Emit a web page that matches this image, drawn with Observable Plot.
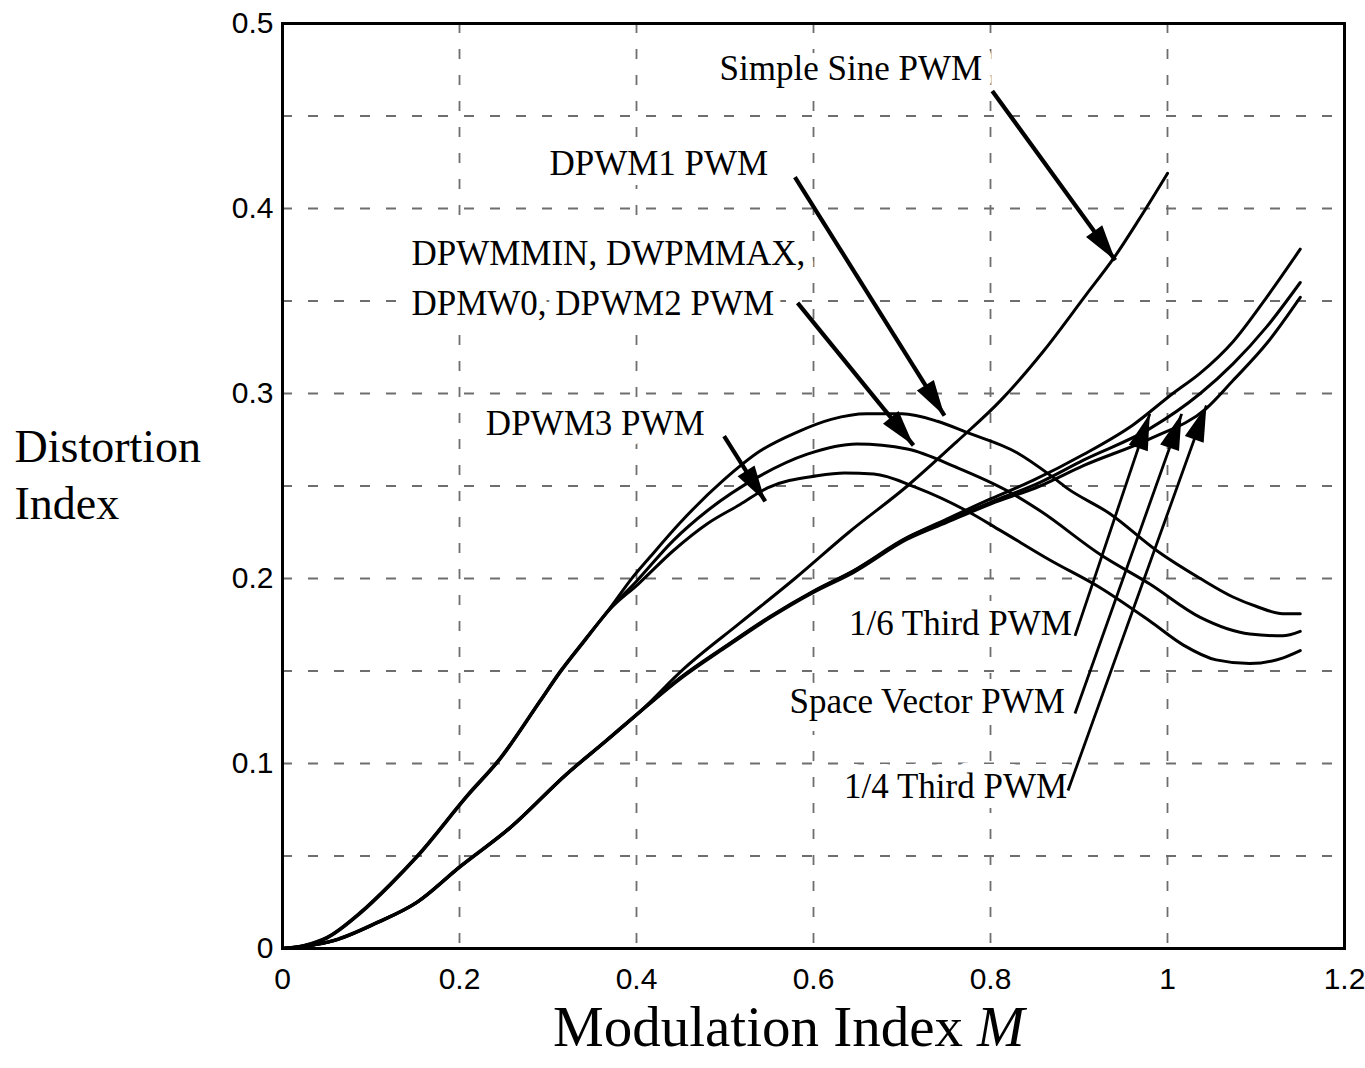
<!DOCTYPE html>
<html><head><meta charset="utf-8">
<script src="https://cdn.jsdelivr.net/npm/d3@7"></script>
<script src="https://cdn.jsdelivr.net/npm/@observablehq/plot@0.6"></script>
<style>body{margin:0;background:#fff}</style>
</head><body><div id="chart"></div>
<script>
// ---- Data ----
const xTicks = [0, 0.2, 0.4, 0.6, 0.8, 1, 1.2];
const yTicks = [0, 0.1, 0.2, 0.3, 0.4, 0.5];
const xGrid = [0.2, 0.4, 0.6, 0.8, 1.0];
const yGrid = [0.05, 0.1, 0.15, 0.2, 0.25, 0.3, 0.35, 0.4, 0.45];

// Continuous PWM family
const sineM = [0,0.03,0.058,0.107,0.152,0.2,0.2575,0.3216,0.365,0.404,0.453,0.517,0.579,0.64,0.706,0.762,0.811,0.86,0.909,0.939,0.969,1.0];
const sineD = [0,0.0015,0.0043,0.014,0.025,0.044,0.0654,0.0945,0.112,0.128,0.151,0.176,0.2,0.225,0.25,0.274,0.296,0.323,0.354,0.373,0.395,0.419];

const sixthM = [0,0.03,0.058,0.107,0.152,0.2,0.2575,0.3216,0.365,0.404,0.449,0.5,0.55,0.6,0.645,0.706,0.75,0.8,0.848,0.905,0.961,1.006,1.037,1.074,1.112,1.15];
const sixthD = [0,0.0015,0.0043,0.014,0.025,0.044,0.0654,0.0945,0.112,0.128,0.146,0.163,0.179,0.193,0.204,0.222,0.232,0.243,0.253,0.267,0.283,0.300,0.311,0.328,0.352,0.378];

const svM = [0,0.03,0.058,0.107,0.152,0.2,0.2575,0.3216,0.365,0.404,0.449,0.5,0.55,0.6,0.645,0.706,0.75,0.8,0.856,0.905,0.98,1.037,1.074,1.112,1.15];
const svD = [0,0.0016,0.0045,0.0142,0.0252,0.0442,0.0656,0.0947,0.1122,0.1282,0.1462,0.1632,0.1792,0.1932,0.2042,0.2222,0.2312,0.2412,0.252,0.264,0.281,0.300,0.316,0.336,0.36];

const quarterM = [0,0.03,0.058,0.107,0.152,0.2,0.2575,0.3216,0.365,0.404,0.449,0.5,0.55,0.6,0.645,0.706,0.75,0.8,0.856,0.905,0.98,1.044,1.074,1.112,1.15];
const quarterD = [0,0.0014,0.0041,0.0138,0.0248,0.0438,0.0652,0.0943,0.1118,0.1278,0.1455,0.1625,0.1785,0.1925,0.2032,0.2212,0.2302,0.2402,0.250,0.261,0.2755,0.292,0.307,0.327,0.352];

// Discontinuous PWM family
const dpwm1M = [0,0.025,0.05,0.088,0.122,0.152,0.209,0.246,0.291,0.314,0.34,0.37,0.393,0.416,0.449,0.498,0.54,0.581,0.62,0.66,0.70,0.74,0.773,0.83,0.867,0.886,0.935,0.988,1.037,1.074,1.10,1.13,1.15];
const dpwm1D = [0,0.0018,0.006,0.0196,0.035,0.05,0.083,0.103,0.134,0.15,0.166,0.184,0.199,0.212,0.23,0.253,0.269,0.279,0.286,0.289,0.289,0.285,0.279,0.268,0.256,0.249,0.235,0.215,0.2,0.19,0.185,0.181,0.181];

const dpwmGroupM = [0,0.025,0.05,0.088,0.122,0.152,0.209,0.246,0.291,0.314,0.34,0.37,0.399,0.4415,0.48,0.536,0.593,0.649,0.706,0.762,0.819,0.856,0.924,0.98,1.037,1.093,1.13,1.15];
const dpwmGroupD = [0,0.0016,0.0058,0.0193,0.0347,0.0497,0.0827,0.1027,0.1337,0.1497,0.1657,0.1837,0.198,0.2205,0.2366,0.2545,0.2672,0.2727,0.27,0.26,0.2474,0.2366,0.213,0.197,0.179,0.17,0.169,0.1714];

const dpwm3M = [0,0.025,0.05,0.088,0.122,0.152,0.209,0.246,0.291,0.314,0.34,0.37,0.402,0.4415,0.48,0.517,0.548,0.604,0.635,0.668,0.717,0.773,0.811,0.867,0.924,0.98,1.018,1.055,1.093,1.13,1.15];
const dpwm3D = [0,0.0014,0.0055,0.019,0.0344,0.0494,0.0824,0.1024,0.1334,0.1494,0.1654,0.1834,0.197,0.215,0.2296,0.240,0.249,0.2555,0.257,0.2565,0.249,0.2366,0.226,0.210,0.195,0.177,0.164,0.156,0.154,0.157,0.161];

// Annotation labels (x = M, y = D)
const labelsEnd = ["Simple Sine PWM", "DPWM1 PWM", "DPWM3 PWM", "1/6 Third PWM", "Space Vector PWM", "1/4 Third PWM"];
const labelsEndX = [0.7905, 0.5488, 0.477, 0.892, 0.884, 0.8865];
const labelsEndY = [0.4757, 0.4244, 0.2834, 0.1756, 0.1332, 0.0872];
const labelsStart = ["DPWMMIN, DWPMMAX,", "DPMW0, DPWM2 PWM"];
const labelsStartX = [0.1457, 0.1457];
const labelsStartY = [0.3757, 0.3485];

// Arrows (from label to curve)
const thickArrowX1 = [0.802, 0.579, 0.582, 0.499];
const thickArrowY1 = [0.4635, 0.417, 0.349, 0.277];
const thickArrowX2 = [0.941, 0.748, 0.713, 0.5455];
const thickArrowY2 = [0.372, 0.288, 0.272, 0.2417];
const thinArrowX1 = [0.8955, 0.8955, 0.8876];
const thinArrowY1 = [0.169, 0.127, 0.0854];
const thinArrowX2 = [0.980, 1.016, 1.044];
const thinArrowY2 = [0.289, 0.289, 0.2935];

// ---- Build tables ----
const seriesDefs = [
  ["Simple Sine PWM", sineM, sineD],
  ["1/6 Third PWM", sixthM, sixthD],
  ["Space Vector PWM", svM, svD],
  ["1/4 Third PWM", quarterM, quarterD],
  ["DPWM1 PWM", dpwm1M, dpwm1D],
  ["DPWMMIN, DWPMMAX, DPMW0, DPWM2 PWM", dpwmGroupM, dpwmGroupD],
  ["DPWM3 PWM", dpwm3M, dpwm3D]
];
const rows = seriesDefs.flatMap(([name, ms, ds]) => ms.map((m, i) => ({series: name, M: m, D: ds[i]})));
const zipArrows = (x1, y1, x2, y2) => x1.map((_, i) => ({x1: x1[i], y1: y1[i], x2: x2[i], y2: y2[i]}));
const thickArrows = zipArrows(thickArrowX1, thickArrowY1, thickArrowX2, thickArrowY2);
const thinArrows = zipArrows(thinArrowX1, thinArrowY1, thinArrowX2, thinArrowY2);
const endLabels = labelsEnd.map((t, i) => ({t, x: labelsEndX[i], y: labelsEndY[i]}));
const startLabels = labelsStart.map((t, i) => ({t, x: labelsStartX[i], y: labelsStartY[i]}));

const NS = "http://www.w3.org/2000/svg";
function filledHead(color) {
  const m = document.createElementNS(NS, "marker");
  m.setAttribute("viewBox", "-37 -10.5 37 21");
  m.setAttribute("markerWidth", 37);
  m.setAttribute("markerHeight", 21);
  m.setAttribute("markerUnits", "userSpaceOnUse");
  m.setAttribute("refX", 0);
  m.setAttribute("refY", 0);
  m.setAttribute("orient", "auto");
  const p = document.createElementNS(NS, "path");
  p.setAttribute("d", "M-36,-10L0,0L-36,10Z");
  p.setAttribute("fill", color || "black");
  p.setAttribute("stroke", "none");
  m.appendChild(p);
  return m;
}

const serif = "'Liberation Serif', 'Times New Roman', Times, serif";
const sans = "'Liberation Sans', Arial, Helvetica, sans-serif";
const halo = {stroke: "white", strokeWidth: 20, paintOrder: "stroke", strokeLinejoin: "round"};

function build(marker) {
  return Plot.plot({
    width: 1365,
    height: 1068,
    marginLeft: 282,
    marginRight: 21,
    marginTop: 23,
    marginBottom: 120,
    style: {background: "white", color: "black"},
    x: {domain: [0, 1.2]},
    y: {domain: [0, 0.5]},
    marks: [
      Plot.ruleX(xGrid, {stroke: "#6e6e6e", strokeWidth: 1.8, strokeDasharray: "10,16"}),
      Plot.ruleY(yGrid, {stroke: "#6e6e6e", strokeWidth: 1.8, strokeDasharray: "10,16"}),
      Plot.text(endLabels, {x: "x", y: "y", text: "t", textAnchor: "end", fontSize: 35, fontFamily: serif, fill: "black", ...halo}),
      Plot.text(startLabels, {x: "x", y: "y", text: "t", textAnchor: "start", fontSize: 35, fontFamily: serif, fill: "black", ...halo}),
      Plot.line(rows, {x: "M", y: "D", z: "series", stroke: "black", strokeWidth: 3, curve: "monotone-x"}),
      Plot.link(thickArrows, {x1: "x1", y1: "y1", x2: "x2", y2: "y2", stroke: "black", strokeWidth: 4.2, markerEnd: marker}),
      Plot.link(thinArrows, {x1: "x1", y1: "y1", x2: "x2", y2: "y2", stroke: "black", strokeWidth: 2.8, markerEnd: marker}),
      Plot.frame({stroke: "black", strokeWidth: 3}),
      Plot.axisX({ticks: xTicks, tickFormat: d3.format("~g"), tickSize: 0, tickPadding: 19, fontSize: 30, fontFamily: sans, label: null}),
      Plot.axisY({ticks: yTicks, tickFormat: d3.format("~g"), tickSize: 0, tickPadding: 9, fontSize: 30, fontFamily: sans, label: null}),
      Plot.text(["Modulation Index"], {x: [0.7848], frameAnchor: "bottom", dx: -14, dy: 97, textAnchor: "end", fontSize: 57, fontFamily: serif, fill: "black"}),
      Plot.text(["M"], {x: [0.7848], frameAnchor: "bottom", dy: 97, textAnchor: "start", fontSize: 57, fontStyle: "italic", fontFamily: serif, fill: "black"}),
      Plot.text(["Distortion", "Index"], {y: [0.2707, 0.2399], frameAnchor: "left", dx: -268, textAnchor: "start", fontSize: 46, fontFamily: serif, fill: "black"})
    ]
  });
}

let chart;
try {
  chart = build((color) => filledHead(color));
} catch (e) {
  chart = build("arrow");
}
document.getElementById("chart").appendChild(chart);
</script></body></html>
